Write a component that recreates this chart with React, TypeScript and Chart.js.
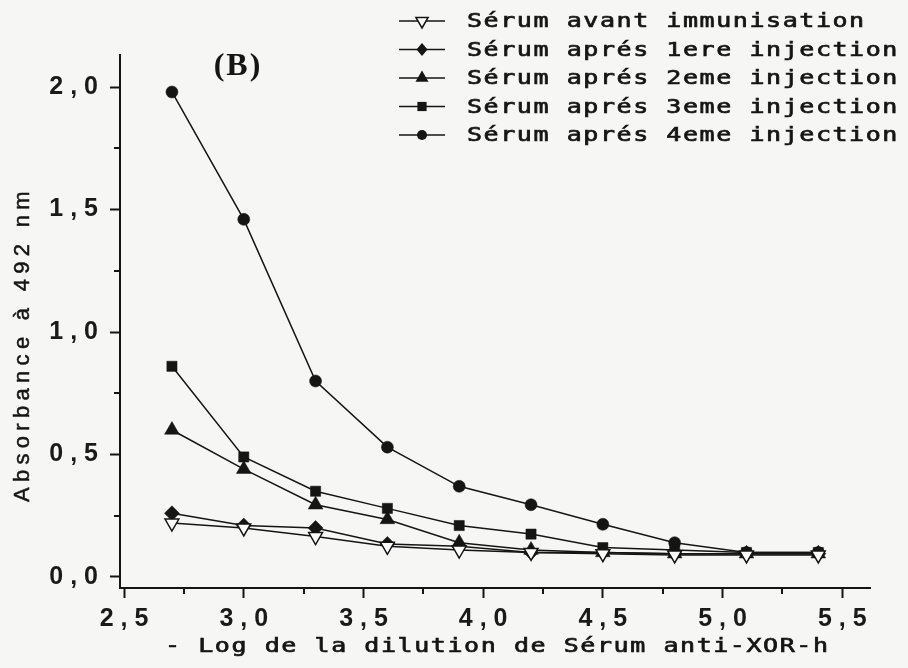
import React, { useEffect, useRef } from 'react';
import { Chart, registerables } from 'chart.js';

Chart.register(...registerables);

// ---- data ----
const dilutionLog = [2.7, 3.0, 3.3, 3.6, 3.9, 4.2, 4.5, 4.8, 5.1, 5.4];
const serumAvant = [0.22, 0.2, 0.165, 0.125, 0.11, 0.1, 0.095, 0.09, 0.09, 0.09];
const serumInj1 = [0.26, 0.21, 0.2, 0.135, 0.125, 0.1, 0.1, 0.095, 0.095, 0.095];
const serumInj2 = [0.6, 0.44, 0.295, 0.235, 0.14, 0.11, 0.1, 0.095, 0.095, 0.095];
const serumInj3 = [0.86, 0.49, 0.35, 0.28, 0.21, 0.175, 0.12, 0.11, 0.1, 0.1];
const serumInj4 = [1.98, 1.46, 0.8, 0.53, 0.37, 0.295, 0.215, 0.14, 0.1, 0.1];

const seriesLabels = [
  'Sérum avant immunisation',
  'Sérum aprés 1ere injection',
  'Sérum aprés 2eme injection',
  'Sérum aprés 3eme injection',
  'Sérum aprés 4eme injection',
];
const seriesValues = [serumAvant, serumInj1, serumInj2, serumInj3, serumInj4];

const xMajorTicks = [2.5, 3.0, 3.5, 4.0, 4.5, 5.0, 5.5];
const xMinorTicks = [2.75, 3.25, 3.75, 4.25, 4.75, 5.25];
const yMajorTicks = [0, 0.5, 1.0, 1.5, 2.0];
const yMinorTicks = [0.25, 0.75, 1.25, 1.75];

const xTitle = '- Log de la dilution de Sérum anti-XOR-h';
const yTitle = 'Absorbance à 492 nm';
const panelLabel = '(B)';

// ---- styles ----
const INK = '#151515';
const BG = '#f6f6f4';
type MarkerKind = 'triDownOpen' | 'diamond' | 'triangle' | 'square' | 'circle';
const markerKinds: MarkerKind[] = ['triDownOpen', 'diamond', 'triangle', 'square', 'circle'];

const fmt = (v: number) => v.toFixed(1).replace('.', ' , ');

function drawMarker(ctx: CanvasRenderingContext2D, kind: MarkerKind, x: number, y: number, s: number) {
  ctx.save();
  ctx.beginPath();
  ctx.lineWidth = 1.5;
  ctx.strokeStyle = INK;
  ctx.fillStyle = INK;
  if (kind === 'circle') {
    ctx.arc(x, y, s, 0, Math.PI * 2);
  } else if (kind === 'square') {
    ctx.rect(x - s, y - s, 2 * s, 2 * s);
  } else if (kind === 'diamond') {
    ctx.moveTo(x, y - s);
    ctx.lineTo(x + s * 0.85, y);
    ctx.lineTo(x, y + s);
    ctx.lineTo(x - s * 0.85, y);
    ctx.closePath();
  } else if (kind === 'triangle') {
    ctx.moveTo(x, y - s);
    ctx.lineTo(x + s * 0.87, y + s * 0.5);
    ctx.lineTo(x - s * 0.87, y + s * 0.5);
    ctx.closePath();
  } else {
    ctx.moveTo(x, y + s);
    ctx.lineTo(x + s * 0.87, y - s * 0.5);
    ctx.lineTo(x - s * 0.87, y - s * 0.5);
    ctx.closePath();
  }
  if (kind === 'triDownOpen') {
    ctx.fillStyle = '#ffffff';
    ctx.fill();
    ctx.stroke();
  } else {
    ctx.fill();
  }
  ctx.restore();
}

function stretchedText(ctx: CanvasRenderingContext2D, text: string, x: number, y: number, sx: number, spacing: string) {
  ctx.save();
  ctx.translate(x, y);
  ctx.scale(sx, 1);
  (ctx as any).letterSpacing = spacing;
  ctx.lineWidth = 0.7;
  ctx.strokeStyle = INK;
  ctx.fillText(text, 0, 0);
  ctx.strokeText(text, 0, 0);
  ctx.restore();
}

const MONO = '20px "DejaVu Sans Mono"';

const decorPlugin = {
  id: 'decor',
  beforeDraw(chart: any) {
    const ctx: CanvasRenderingContext2D = chart.ctx;
    ctx.save();
    ctx.fillStyle = BG;
    ctx.fillRect(0, 0, chart.width, chart.height);
    ctx.restore();
  },
  afterDraw(chart: any) {
    const ctx: CanvasRenderingContext2D = chart.ctx;
    const xs = chart.scales.x;
    const ys = chart.scales.y;
    const area = chart.chartArea;
    ctx.save();
    ctx.strokeStyle = INK;
    ctx.lineWidth = 2;
    // minor ticks
    xMinorTicks.forEach((v) => {
      const px = Math.round(xs.getPixelForValue(v));
      ctx.beginPath();
      ctx.moveTo(px, area.bottom);
      ctx.lineTo(px, area.bottom + 6);
      ctx.stroke();
    });
    yMinorTicks.forEach((v) => {
      const py = Math.round(ys.getPixelForValue(v));
      ctx.beginPath();
      ctx.moveTo(area.left - 6, py);
      ctx.lineTo(area.left, py);
      ctx.stroke();
    });

    // legend
    const legX0 = 399, legX1 = 445, legMx = 422, legTx = 467, legY0 = 21, legDy = 28.5;
    const legSizes = [7, 6.5, 7.5, 4.6, 5];
    seriesLabels.forEach((label, i) => {
      const y = legY0 + i * legDy;
      ctx.beginPath();
      ctx.lineWidth = 1.5;
      ctx.strokeStyle = INK;
      ctx.moveTo(legX0, y);
      ctx.lineTo(legX1, y);
      ctx.stroke();
      drawMarker(ctx, markerKinds[i], legMx, y, legSizes[i]);
      ctx.fillStyle = INK;
      ctx.font = MONO;
      ctx.textAlign = 'left';
      ctx.textBaseline = 'middle';
      stretchedText(ctx, label, legTx, y + 1, 1.25, '1.25px');
    });

    // x title
    ctx.fillStyle = INK;
    ctx.font = MONO;
    ctx.textAlign = 'left';
    ctx.textBaseline = 'middle';
    stretchedText(ctx, xTitle, 165, 647, 1.25, '1.25px');

    // y title
    ctx.save();
    ctx.translate(23, 344);
    ctx.rotate(-Math.PI / 2);
    ctx.font = '22px "Liberation Sans", Arial, sans-serif';
    ctx.textAlign = 'center';
    ctx.textBaseline = 'middle';
    ctx.fillStyle = INK;
    ctx.strokeStyle = INK;
    ctx.lineWidth = 0.5;
    (ctx as any).letterSpacing = '5.3px';
    ctx.fillText(yTitle, 0, 0);
    ctx.strokeText(yTitle, 0, 0);
    ctx.restore();

    // panel label
    ctx.font = 'bold 32px "Liberation Serif", "Times New Roman", serif';
    ctx.textAlign = 'center';
    ctx.textBaseline = 'middle';
    ctx.fillStyle = INK;
    (ctx as any).letterSpacing = '2px';
    ctx.fillText(panelLabel, 238, 67);
    ctx.restore();
  },
};

const pointStyles: any[] = ['triangle', 'rectRot', 'triangle', 'rect', 'circle'];
const pointRot = [180, 0, 0, 0, 0];
const pointRad = [8, 7.5, 8.5, 7.2, 6];

export default function App() {
  const canvasRef = useRef<HTMLCanvasElement | null>(null);

  useEffect(() => {
    const canvas = canvasRef.current;
    if (!canvas) return;
    const datasets = seriesValues.map((vals, i) => ({
      label: seriesLabels[i],
      data: dilutionLog.map((x, j) => ({ x, y: vals[j] })),
      showLine: true,
      borderColor: INK,
      borderWidth: 1.5,
      pointStyle: pointStyles[i],
      rotation: pointRot[i],
      radius: pointRad[i],
      pointRadius: pointRad[i],
      pointHoverRadius: pointRad[i],
      pointBackgroundColor: i === 0 ? '#ffffff' : INK,
      pointBorderColor: INK,
      pointBorderWidth: i === 0 ? 1.5 : 0.5,
      tension: 0,
    }));

    const tickFont = { family: '"Liberation Sans", Arial, sans-serif', size: 25, weight: 'bold' as const };

    const chart = new Chart(canvas, {
      type: 'scatter',
      data: { datasets },
      options: {
        animation: false,
        responsive: false,
        devicePixelRatio: 1,
        layout: { padding: { top: 55, right: 38, left: 0, bottom: 0 } },
        plugins: { legend: { display: false }, tooltip: { enabled: false } },
        scales: {
          x: {
            type: 'linear',
            min: 2.483,
            max: 5.616,
            afterBuildTicks: (s: any) => {
              s.ticks = xMajorTicks.map((v) => ({ value: v }));
            },
            afterFit: (s: any) => {
              s.height = 80;
            },
            grid: { display: true, drawOnChartArea: false, drawTicks: true, tickLength: 10, tickWidth: 2, tickColor: INK },
            border: { display: true, color: INK, width: 2 },
            ticks: {
              autoSkip: false,
              maxRotation: 0,
              padding: 6,
              color: '#1a1a1a',
              font: tickFont,
              callback: (v: any) => fmt(Number(v)),
            },
          },
          y: {
            type: 'linear',
            min: -0.045,
            max: 2.131,
            afterBuildTicks: (s: any) => {
              s.ticks = yMajorTicks.map((v) => ({ value: v }));
            },
            afterFit: (s: any) => {
              s.width = 120;
            },
            grid: { display: true, drawOnChartArea: false, drawTicks: true, tickLength: 10, tickWidth: 2, tickColor: INK },
            border: { display: true, color: INK, width: 2 },
            ticks: {
              autoSkip: false,
              padding: 12,
              color: '#1a1a1a',
              font: tickFont,
              callback: (v: any) => fmt(Number(v)),
            },
          },
        },
      } as any,
      plugins: [decorPlugin],
    });
    return () => chart.destroy();
  }, []);

  return (
    <div style={{ position: 'fixed', left: 0, top: 0, width: 908, height: 668, background: BG }}>
      <canvas ref={canvasRef} width={908} height={668} style={{ display: 'block', width: 908, height: 668 }} />
    </div>
  );
}
